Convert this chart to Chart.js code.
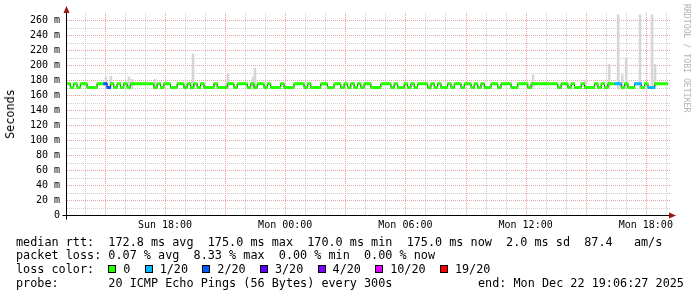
<!DOCTYPE html>
<html>
<head>
<meta charset="utf-8">
<script src="https://cdn.jsdelivr.net/npm/chart.js@4/dist/chart.umd.min.js"></script>
<style>
html, body { margin: 0; padding: 0; background: #fff; }
#wrap { position: relative; width: 697px; height: 297px; overflow: hidden; font-family: "DejaVu Sans Mono", monospace; color: #000; }
#wrap canvas { position: absolute; left: 0; top: 0; }
.t { position: absolute; font-size: 11.8px; line-height: 14px; white-space: pre; }
.sw { display: inline-block; position: relative; width: 15px; height: 14px; vertical-align: top; }
.sw i { position: absolute; left: 0; top: 3px; width: 6px; height: 6px; border: 1px solid #000; }
#ylab { position: absolute; left: 10px; top: 114px; font-size: 11.8px; transform: translate(-50%, -50%) rotate(-90deg); }
#credit { position: absolute; left: 682px; top: 4px; font-size: 8.2px; color: #b4b4b4; writing-mode: vertical-rl; white-space: pre; }
</style>
</head>
<body>
<div id="wrap">
  <canvas id="smoke" width="697" height="297"></canvas>
  <div id="ylab">Seconds</div>
  <div id="credit">RRDTOOL / TOBI OETIKER</div>
  <div class="t" style="left:16px;top:235px">median rtt:  172.8 ms avg  175.0 ms max  170.0 ms min  175.0 ms now  2.0 ms sd  87.4   am/s</div>
  <div class="t" style="left:16px;top:248px">packet loss: 0.07 % avg  8.33 % max  0.00 % min  0.00 % now</div>
  <div class="t" id="losslegend" style="left:16px;top:262px">loss color:  </div>
  <div class="t" style="left:16px;top:276px">probe:       20 ICMP Echo Pings (56 Bytes) every 300s</div>
  <div class="t" style="left:478px;top:276px">end: Mon Dec 22 19:06:27 2025</div>
</div>
<script>
// window: Sun 13:06:27 -> Mon 19:06:27, hours counted from Sun 00:00
const startHour = 13 + 6 / 60 + 27 / 3600;
const spanHours = 30;
const stepHours = 1 / 6;

// median rtt (ms), one value per 10 minutes
const median = [
  175, 170, 175, 170, 175, 175, 170, 170, 170, 175,
  175, 175, 170, 175, 170, 175, 170, 175, 170, 175,
  175, 175, 175, 175, 175, 175, 170, 175, 170, 175,
  175, 170, 170, 175, 175, 170, 175, 170, 175, 170,
  175, 170, 170, 170, 175, 170, 170, 170, 175, 175,
  170, 175, 175, 175, 170, 175, 170, 175, 175, 170,
  175, 170, 170, 170, 175, 170, 170, 170, 175, 175,
  175, 170, 175, 170, 170, 170, 175, 175, 170, 170,
  175, 175, 170, 175, 170, 175, 170, 175, 170, 175,
  175, 170, 170, 170, 175, 175, 175, 170, 175, 170,
  170, 175, 170, 175, 170, 175, 175, 175, 170, 175,
  170, 175, 170, 170, 175, 170, 175, 175, 170, 175,
  175, 170, 175, 170, 175, 170, 170, 175, 175, 170,
  175, 175, 175, 170, 170, 175, 175, 175, 170, 175,
  175, 175, 175, 175, 175, 175, 175, 170, 175, 175,
  170, 175, 170, 170, 175, 170, 170, 170, 175, 170,
  175, 170, 175, 175, 175, 175, 170, 175, 170, 170,
  175, 175, 170, 175, 170, 170, 175, 175, 175, 175
];

// lost pings out of 20, same slots as median
const loss = [
  0, 0, 0, 0, 0, 0, 0, 0, 0, 0,
  0, 2, 2, 0, 0, 0, 0, 0, 0, 0,
  0, 0, 0, 0, 0, 0, 0, 0, 0, 0,
  0, 0, 0, 0, 0, 0, 0, 0, 0, 0,
  0, 0, 0, 0, 0, 0, 0, 0, 0, 0,
  0, 0, 0, 0, 0, 0, 0, 0, 0, 0,
  0, 0, 0, 0, 0, 0, 0, 0, 0, 0,
  0, 0, 0, 0, 0, 0, 0, 0, 0, 0,
  0, 0, 0, 0, 0, 0, 0, 0, 0, 0,
  0, 0, 0, 0, 0, 0, 0, 0, 0, 0,
  0, 0, 0, 0, 0, 0, 0, 0, 0, 0,
  0, 0, 0, 0, 0, 0, 0, 0, 0, 0,
  0, 0, 0, 0, 0, 0, 0, 0, 0, 0,
  0, 0, 0, 0, 0, 0, 0, 0, 0, 0,
  0, 0, 0, 0, 0, 0, 0, 0, 0, 0,
  0, 0, 0, 0, 0, 0, 0, 0, 0, 0,
  0, 0, 0, 0, 1, 1, 0, 0, 0, 0,
  1, 1, 0, 0, 1, 1, 0, 0, 0, 0
];

// smoke spikes: hour and highest ping (ms)
const smokeHours = [15.05, 15.30, 16.20, 16.35, 17.50, 19.30, 19.40, 21.14, 22.39, 22.49,
                    36.37, 38.97, 40.17, 40.62, 40.82, 41.02, 41.71, 42.31, 42.46];
const smokeTop   = [184, 185, 184, 181, 181, 178, 215, 188, 184, 196,
                    187, 180, 201, 267, 187, 210, 267, 267, 201];
const smokeBase = 168;

const lossLabels = ["0", "1/20", "2/20", "3/20", "4/20", "10/20", "19/20"];
const lossSteps  = [0, 1, 2, 3, 4, 10, 19];
const lossColors = ["#26ff00", "#00b8ff", "#0059ff", "#5e00ff", "#7e00ff", "#dd00ff", "#ff0000"];

const yTicks = [];
for (let v = 0; v <= 260; v += 10) yTicks.push(v);
const xTicks = [];
for (let h = 14; h <= 43; h++) xTicks.push(h);

function colorForLoss(n) {
  let c = lossColors[0];
  lossSteps.forEach((s, i) => { if (n >= s) c = lossColors[i]; });
  return c;
}

function hourLabel(h) {
  if (h % 6 !== 0) return "";
  const day = h < 24 ? "Sun" : "Mon";
  const hh = String(h % 24).padStart(2, "0");
  return day + " " + hh + ":00";
}

// loss colour legend
const ll = document.getElementById("losslegend");
lossLabels.forEach((lab, i) => {
  const sw = document.createElement("span");
  sw.className = "sw";
  const box = document.createElement("i");
  box.style.background = lossColors[i];
  sw.appendChild(box);
  ll.appendChild(sw);
  ll.appendChild(document.createTextNode(lab + "  "));
});

const slotX = median.map((_, i) => startHour + (i + 0.5) * stepHours);

const gridMajor = "#e8a4a4";
const gridMinor = "#cecece";
const tickFont = { family: "'DejaVu Sans Mono', monospace", size: 10 };

// rrdtool style dotted grid, minor first then major on top
const gridPlugin = {
  id: "rrdGrid",
  beforeDatasetsDraw(chart) {
    const { ctx, chartArea: a, scales } = chart;
    const top = Math.round(a.top);
    const left = Math.round(a.left);
    const bottom = Math.round(a.bottom);
    ctx.save();
    ctx.lineWidth = 1;
    ctx.setLineDash([1, 1]);
    [false, true].forEach((major) => {
      ctx.strokeStyle = major ? gridMajor : gridMinor;
      ctx.beginPath();
      xTicks.forEach((h) => {
        if ((h % 3 === 0) !== major) return;
        const px = Math.round(scales.x.getPixelForValue(h)) + 0.5;
        ctx.moveTo(px, top);
        ctx.lineTo(px, bottom);
      });
      yTicks.forEach((v) => {
        if (v === 0 || (v % 20 === 0) !== major) return;
        const py = Math.round(scales.y.getPixelForValue(v)) + 0.5;
        ctx.moveTo(left, py);
        ctx.lineTo(Math.round(a.right) + 2, py);
      });
      ctx.stroke();
    });
    ctx.restore();
  }
};

const axesPlugin = {
  id: "rrdAxes",
  afterDatasetsDraw(chart) {
    const { ctx, chartArea: a } = chart;
    const x0 = Math.round(a.left) - 0.5;
    const y0 = Math.round(a.bottom) + 0.5;
    ctx.save();
    ctx.strokeStyle = "#000";
    ctx.lineWidth = 1;
    ctx.beginPath();
    ctx.moveTo(x0, y0 + 4);
    ctx.lineTo(x0, 10);
    ctx.moveTo(x0 - 4, y0);
    ctx.lineTo(a.right + 4, y0);
    ctx.stroke();
    ctx.fillStyle = "#9a1414";
    ctx.beginPath();
    ctx.moveTo(x0, 6);
    ctx.lineTo(x0 - 3, 13);
    ctx.lineTo(x0 + 3, 13);
    ctx.closePath();
    ctx.fill();
    ctx.beginPath();
    ctx.moveTo(a.right + 8, y0);
    ctx.lineTo(a.right + 1, y0 - 3);
    ctx.lineTo(a.right + 1, y0 + 3);
    ctx.closePath();
    ctx.fill();
    ctx.restore();
  }
};

const data = {
  datasets: [
    {
      type: "bar",
      label: "loss band",
      data: median.map((v, i) => ({ x: slotX[i], y: [v - 1.7, v + 1.7] })),
      backgroundColor: loss.map(colorForLoss),
      barThickness: 3.6,
      grouped: false,
      order: 0,
    },
    {
      type: "line",
      label: "median",
      data: median.map((v, i) => ({ x: slotX[i], y: v })),
      borderColor: "#000",
      borderWidth: 1,
      stepped: "middle",
      pointRadius: 0,
      order: 1,
    },
    {
      type: "bar",
      label: "smoke",
      data: smokeHours.map((h, i) => ({ x: h, y: [smokeBase, smokeTop[i]] })),
      backgroundColor: "#d6d6d6",
      barThickness: 2,
      grouped: false,
      order: 2,
    },
  ],
};

const config = {
  type: "bar",
  data: data,
  options: {
    responsive: false,
    animation: false,
    events: [],
    layout: { padding: { left: 0, right: 29, top: 12.5, bottom: 0 } },
    plugins: {
      legend: { display: false },
      tooltip: { enabled: false },
    },
    scales: {
      x: {
        type: "linear",
        min: startHour,
        max: startHour + spanHours,
        offset: false,
        afterBuildTicks: (s) => { s.ticks = xTicks.map((v) => ({ value: v })); },
        afterFit: (s) => { s.height = 82; s.paddingLeft = 0; s.paddingRight = 0; },
        ticks: {
          autoSkip: false,
          maxRotation: 0,
          padding: 4,
          color: "#000",
          font: tickFont,
          callback: (v) => hourLabel(v),
        },
        grid: { display: false, offset: false, drawTicks: false },
        border: { display: false },
      },
      y: {
        min: 0,
        max: 270,
        afterBuildTicks: (s) => { s.ticks = yTicks.map((v) => ({ value: v })); },
        afterFit: (s) => { s.width = 67; s.paddingTop = 0; s.paddingBottom = 0; },
        ticks: {
          padding: 7,
          color: "#000",
          font: tickFont,
          callback: (v) => (v % 20 !== 0 ? "" : v === 0 ? "0" : v + " m"),
        },
        grid: { display: false, drawTicks: false },
        border: { display: false },
      },
    },
  },
  plugins: [gridPlugin, axesPlugin],
};

new Chart(document.getElementById("smoke"), config);
</script>
</body>
</html>
